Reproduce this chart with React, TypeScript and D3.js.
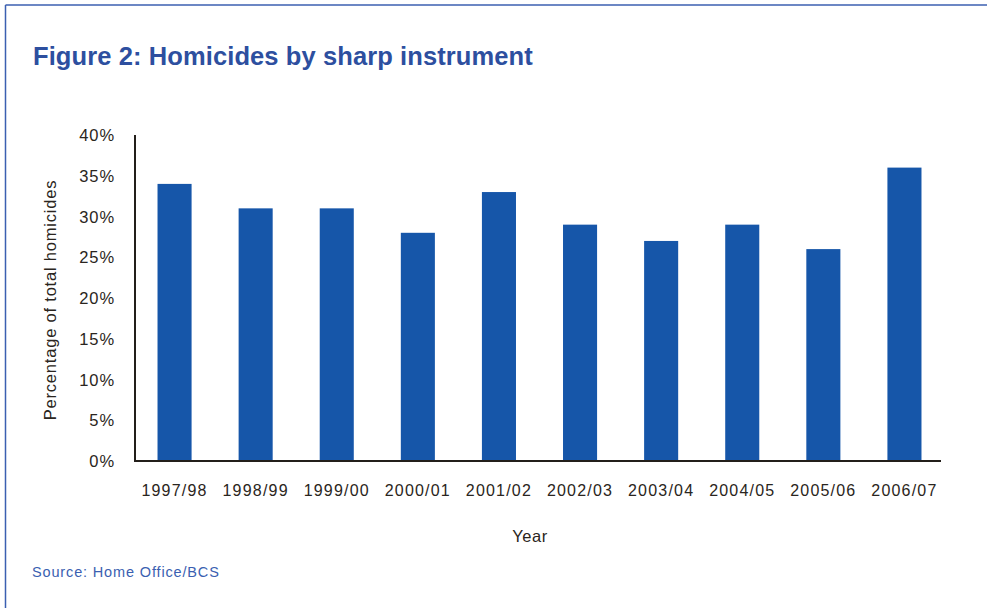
import React from "react";
import * as d3 from "d3";

const years = ["1997/98", "1998/99", "1999/00", "2000/01", "2001/02", "2002/03", "2003/04", "2004/05", "2005/06", "2006/07"];
const sharpPct = [34, 31, 31, 28, 33, 29, 27, 29, 26, 36];
const yTicks = [0, 5, 10, 15, 20, 25, 30, 35, 40];

const W = 987;
const H = 608;
const BLUE = "#1656a9";
const FRAME = "#3b5fb1";
const TEXT = "#2a2520";
const FONT = "'Liberation Sans', Arial, Helvetica, sans-serif";

export default function App() {
  const x = d3.scaleBand<string>().domain(years).range([134, 945]).paddingInner(0.58).paddingOuter(0.29);
  const y = d3.scaleLinear().domain([0, 40]).range([461, 135]);

  return (
    <svg width={W} height={H} style={{ position: "absolute", left: 0, top: 0, background: "#fff" }} fontFamily={FONT}>
      <rect x={0} y={0} width={W} height={H} fill="#fff" />
      {/* frame: top and left */}
      <line x1={5.5} x2={W} y1={5} y2={5} stroke={FRAME} strokeWidth={1.5} />
      <line x1={5.5} x2={5.5} y1={5} y2={H} stroke={FRAME} strokeWidth={1.5} />

      <text x={33} y={65} fontSize={25.5} fontWeight="bold" fill="#2d4f9f" letterSpacing={0.1}>
        Figure 2: Homicides by sharp instrument
      </text>

      {/* bars */}
      {years.map((yr, i) => (
        <rect key={yr} x={x(yr)} y={y(sharpPct[i])} width={x.bandwidth()} height={y(0) - y(sharpPct[i])} fill={BLUE} />
      ))}

      {/* axes */}
      <line x1={135} x2={135} y1={135} y2={462} stroke="#231f1a" strokeWidth={2} />
      <line x1={134} x2={941} y1={461} y2={461} stroke="#231f1a" strokeWidth={2} />

      {yTicks.map((t) => (
        <text key={t} x={115} y={y(t) + 6} textAnchor="end" fontSize={16.5} letterSpacing={0.9} fill={TEXT}>
          {t}%
        </text>
      ))}

      {years.map((yr) => (
        <text key={yr} x={(x(yr) as number) + x.bandwidth() / 2} y={496} textAnchor="middle" fontSize={16} letterSpacing={1.2} fill={TEXT}>
          {yr}
        </text>
      ))}

      <text transform={`translate(56,300) rotate(-90)`} textAnchor="middle" fontSize={16.5} letterSpacing={0.8} fill={TEXT}>
        Percentage of total homicides
      </text>

      <text x={530} y={542} textAnchor="middle" fontSize={16.5} letterSpacing={0.5} fill={TEXT}>
        Year
      </text>

      <text x={32} y={577} fontSize={14.5} letterSpacing={0.85} fill={FRAME}>
        Source: Home Office/BCS
      </text>
    </svg>
  );
}
